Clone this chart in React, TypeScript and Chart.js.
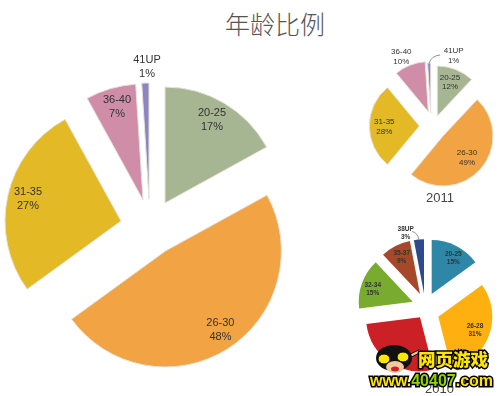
import React, { useEffect, useRef } from "react";
import { Chart, registerables } from "chart.js";

Chart.register(...registerables);

const mainCategories = ["20-25", "26-30", "31-35", "36-40", "41UP"];
const mainValues = [17, 48, 27, 7, 1];
const mainColors = ["#a6b592", "#f2a445", "#e4b926", "#cf8da8", "#8d84c4"];

const y2011Categories = ["20-25", "26-30", "31-35", "36-40", "41UP"];
const y2011Values = [12, 49, 28, 10, 1];
const y2011Colors = ["#a6b592", "#f2a445", "#e4b926", "#cf8da8", "#8d84c4"];

const y2010Categories = ["20-25", "26-28", "29-31", "32-34", "35-37", "38UP"];
const y2010Values = [15, 31, 27, 15, 9, 3];
const y2010Colors = ["#2f87a8", "#fdb010", "#cc2027", "#79ab2e", "#a5492a", "#2f4a8c"];

// Layout only: how far each slice is pulled out, and where its label sits relative to its tip.
const mainExplode = [[13, -19], [13.4, 29], [-31, -1], [-9, -22], [-3, -23]];
const mainLabelAt = [[47, -83], [55, 79], [-93, -22], [-26, -93], [-2, -132]];
const y2011Explode = [[7.3, -9], [13, 11], [-10.7, 1], [-1.7, -13.3], [0.7, -12]];
const y2011LabelAt = [[12.7, -33.7], [24, 21.7], [-35, 1], [-27, -55], [23, -57]];
const y2010Explode = [[7.7, -11], [14.3, 11.7], [-4, 12.3], [-11.3, -3.3], [-4, -11], [0, -11.7]];
const y2010LabelAt = [[21.6, -35.7], [36.7, 13.3], null, [-40, -12.4], [-18.3, -36.7], [-18.3, -60]];

const sansFont = "'Liberation Sans', sans-serif";

const explodedSlices = {
  id: "explodedSlices",
  afterDatasetsUpdate(chart: any, _a: any, opts: any) {
    chart.getDatasetMeta(0).data.forEach((arc: any, i: number) => {
      arc.x += opts.explode[i][0];
      arc.y += opts.explode[i][1];
    });
  },
  afterDatasetsDraw(chart: any, _a: any, opts: any) {
    const { ctx } = chart;
    const labels: string[] = chart.data.labels;
    const values: number[] = chart.data.datasets[0].data;
    ctx.save();
    ctx.textAlign = "center";
    ctx.textBaseline = "middle";
    ctx.font = `${opts.weight} ${opts.size}px ${sansFont}`;
    chart.getDatasetMeta(0).data.forEach((arc: any, i: number) => {
      const leader = opts.leaders[i];
      if (leader) {
        const mid = (arc.startAngle + arc.endAngle) / 2;
        const tx = arc.x + Math.cos(mid) * arc.outerRadius;
        const ty = arc.y + Math.sin(mid) * arc.outerRadius;
        ctx.beginPath();
        ctx.moveTo(tx, ty);
        ctx.quadraticCurveTo(tx + leader[0] * 0.2, ty + leader[1] * 0.9, tx + leader[0], ty + leader[1]);
        ctx.strokeStyle = "#777";
        ctx.lineWidth = 0.8;
        ctx.stroke();
      }
      const at = opts.labelAt[i];
      if (!at) return;
      ctx.fillStyle = "#333";
      ctx.fillText(labels[i], arc.x + at[0], arc.y + at[1] - opts.size * 0.6);
      ctx.fillText(values[i] + "%", arc.x + at[0], arc.y + at[1] + opts.size * 0.6);
    });
    ctx.restore();
  },
};

function Pie({ cx, cy, size, radius, labels, values, colors, explode, labelAt, leaders, font, weight, border }: any) {
  const ref = useRef<HTMLCanvasElement>(null);
  useEffect(() => {
    const chart = new Chart(ref.current!, {
      type: "pie",
      data: {
        labels,
        datasets: [{ data: values, backgroundColor: colors, borderColor: "#e6e2d8", borderWidth: border }],
      },
      options: {
        responsive: false,
        animation: false,
        radius,
        layout: { padding: 0 },
        plugins: {
          legend: { display: false },
          tooltip: { enabled: false },
          title: { display: false },
          explodedSlices: { explode, labelAt, leaders, size: font, weight },
        },
      } as any,
      plugins: [explodedSlices],
    } as any);
    return () => chart.destroy();
  }, []);
  return (
    <canvas
      ref={ref}
      width={size}
      height={size}
      style={{ position: "absolute", left: cx - size / 2, top: cy - size / 2, width: size, height: size }}
    />
  );
}

const logoText: React.CSSProperties = {
  position: "absolute",
  whiteSpace: "nowrap",
  fontWeight: 900,
  color: "#ffe600",
  WebkitTextStroke: "3px #000",
  paintOrder: "stroke fill",
};

export default function App() {
  return (
    <div style={{ position: "fixed", left: 0, top: 0, width: 500, height: 396, background: "#fff", overflow: "hidden", fontFamily: sansFont }}>
      <div style={{ position: "absolute", left: 225, top: 6, fontSize: 25, color: "#555", lineHeight: "34px", fontFamily: "'Noto Sans CJK SC'", fontWeight: 300 }}>年龄比例</div>
      <Pie cx={152} cy={222} size={396} radius={116} labels={mainCategories} values={mainValues} colors={mainColors} explode={mainExplode} labelAt={mainLabelAt} leaders={[null, null, null, null, null]} font={11} weight={400} border={1} />
      <Pie cx={430} cy={125} size={170} radius={50} labels={y2011Categories} values={y2011Values} colors={y2011Colors} explode={y2011Explode} labelAt={y2011LabelAt} leaders={[null, null, null, null, [11, -8]]} font={8} weight={400} border={1} />
      <Pie cx={424} cy={305} size={170} radius={54} labels={y2010Categories} values={y2010Values} colors={y2010Colors} explode={y2010Explode} labelAt={y2010LabelAt} leaders={[null, null, null, null, null, [-7, -8]]} font={6.5} weight={700} border={0} />
      <div style={{ position: "absolute", left: 426, top: 190, fontSize: 13, color: "#444" }}>2011</div>
      <div style={{ position: "absolute", left: 425, top: 381, fontSize: 13, color: "#444" }}>2010</div>
      <svg width={60} height={45} style={{ position: "absolute", left: 370, top: 340 }}>
        <path d="M38 17 L50 11" stroke="#000" strokeWidth={4} />
        <path d="M38 17 L50 11" stroke="#f3c9a0" strokeWidth={2} />
        <ellipse cx={24} cy={18} rx={18} ry={13} fill="#111" />
        <ellipse cx={25} cy={27} rx={9} ry={6} fill="#f3c9a0" />
        <ellipse cx={25} cy={29} rx={4} ry={2.5} fill="#d0202a" />
        <ellipse cx={14} cy={19} rx={6} ry={5} fill="#ffe600" stroke="#000" />
        <ellipse cx={33} cy={17} rx={6} ry={5} fill="#ffe600" stroke="#000" />
      </svg>
      <div style={{ ...logoText, left: 418, top: 347, fontSize: 17.5, lineHeight: "24px", fontFamily: "'Noto Sans CJK SC'" }}>网页游戏</div>
      <div style={{ ...logoText, left: 370, top: 371, fontSize: 16, lineHeight: "20px" }}>
        www.<span style={{ color: "#8fd400" }}>40407</span>.com
      </div>
    </div>
  );
}
